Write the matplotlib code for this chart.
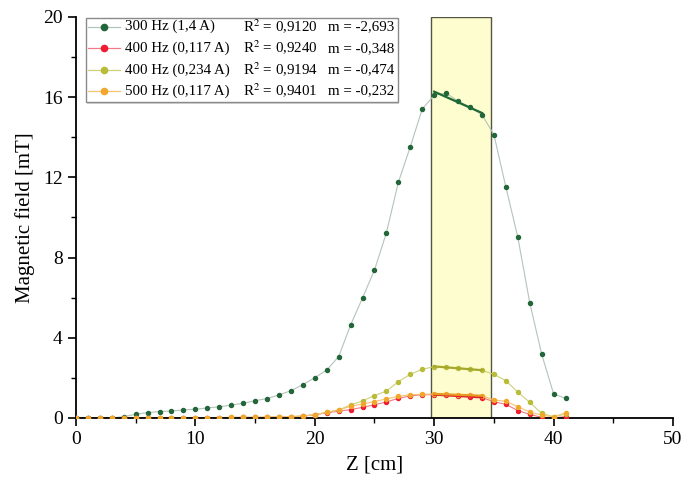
import numpy as np
import matplotlib
matplotlib.use("Agg")
import matplotlib.pyplot as plt
from matplotlib.patches import Rectangle
from matplotlib.lines import Line2D

plt.rcParams['font.family'] = ['Liberation Serif', 'DejaVu Serif']
plt.rcParams['mathtext.fontset'] = 'stix'

z = np.arange(0, 42)

b_300 = [0, 0, 0, 0, 0.07, 0.18, 0.27, 0.32, 0.35, 0.40, 0.44, 0.50, 0.56, 0.64,
         0.74, 0.86, 0.97, 1.15, 1.36, 1.66, 2.01, 2.39, 3.06, 4.64, 5.99, 7.38,
         9.24, 11.76, 13.53, 15.41, 16.10, 16.20, 15.80, 15.50, 15.12, 14.13,
         11.52, 9.02, 5.75, 3.18, 1.20, 0.98]
b_400a = [0, 0, 0, 0, 0, 0, 0, 0, 0.01, 0.01, 0.01, 0.02, 0.02, 0.02, 0.03, 0.03,
          0.03, 0.04, 0.06, 0.09, 0.16, 0.26, 0.34, 0.42, 0.53, 0.66, 0.80, 0.98,
          1.10, 1.16, 1.16, 1.13, 1.10, 1.07, 1.02, 0.81, 0.68, 0.37, 0.18, 0.03,
          0.0, 0.07]
b_400b = [0, 0, 0, 0, 0, 0, 0, 0, 0.01, 0.01, 0.02, 0.02, 0.02, 0.03, 0.03, 0.03,
          0.04, 0.05, 0.07, 0.10, 0.17, 0.28, 0.40, 0.65, 0.85, 1.12, 1.34, 1.81,
          2.18, 2.43, 2.56, 2.53, 2.49, 2.44, 2.37, 2.18, 1.86, 1.29, 0.78, 0.23,
          0.07, 0.18]
b_500 = [0, 0, 0, 0, 0, 0, 0, 0, 0.01, 0.01, 0.02, 0.02, 0.02, 0.03, 0.03, 0.03,
         0.04, 0.05, 0.07, 0.10, 0.17, 0.28, 0.40, 0.58, 0.70, 0.82, 0.95, 1.08,
         1.16, 1.18, 1.20, 1.18, 1.16, 1.13, 1.11, 0.90, 0.83, 0.56, 0.30, 0.14,
         0.06, 0.26]

names = ["300 Hz (1,4 A)", "400 Hz (0,117 A)", "400 Hz (0,234 A)", "500 Hz (0,117 A)"]
r2 = ["0,9120", "0,9240", "0,9194", "0,9401"]
slopes = ["-2,693", "-0,348", "-0,474", "-0,232"]
fit_lo, fit_hi = 30, 34
band = (29.7, 34.75)

series = [b_300, b_400a, b_400b, b_500]
mcol = ["#22663a", "#ee1c32", "#b9bc38", "#f3a62c"]
lcol = ["#b4c4b8", "#f27a86", "#cfd17a", "#f6c374"]
fcol = ["#1f6a34", "#e0202e", "#a5a82a", "#e89a20"]

fig = plt.figure(figsize=(6.84, 4.82), dpi=100)
ax = fig.add_axes([0.111, 0.1328, 0.873, 0.832])

ax.axvspan(band[0], band[1], facecolor="#fdfdd0", edgecolor="#555544", lw=1.0, zorder=0)

for b, mc, lc, fc in zip(series, mcol, lcol, fcol):
    b = np.asarray(b)
    ax.plot(z, b, '-', color=lc, lw=0.8, zorder=2)
    ax.plot(z, b, 'o', color=mc, ms=2.9, mec=mc, zorder=3)
    sel = (z >= fit_lo) & (z <= fit_hi)
    p = np.polyfit(z[sel], b[sel], 1)
    xf = np.array([fit_lo, fit_hi])
    ax.plot(xf, np.polyval(p, xf), '-', color=fc, lw=1.6, zorder=4)

ax.set_xlim(0, 50)
ax.set_ylim(0, 20)
ax.set_xticks(np.arange(0, 51, 10))
ax.set_xticks(np.arange(0, 51, 5), minor=True)
ax.set_yticks(np.arange(0, 21, 4))
ax.set_yticks(np.arange(0, 21, 2), minor=True)
ax.tick_params(which='major', direction='out', length=6, width=1.2, labelsize=14, colors='black')
ax.tick_params(which='minor', direction='out', length=3.5, width=1.0)
for s in ['top', 'right']:
    ax.spines[s].set_visible(False)
for s in ['left', 'bottom']:
    ax.spines[s].set_linewidth(1.3)
ax.set_xlabel("Z [cm]", fontsize=15, labelpad=5)
ax.set_ylabel("Magnetic field [mT]", fontsize=15, labelpad=6)

# legend box (manual, to align the columns)
tr = ax.transAxes
lx0, lx1 = 0.0168, 0.539
ly0, ly1 = 0.788, 0.9975
ax.add_patch(Rectangle((lx0 + 0.002, ly0 - 0.004), lx1 - lx0, ly1 - ly0, transform=tr,
                       facecolor="#d8d8d8", edgecolor="none", zorder=5, clip_on=False))
ax.add_patch(Rectangle((lx0, ly0), lx1 - lx0, ly1 - ly0, transform=tr,
                       facecolor="white", edgecolor="#8a8a8a", lw=1.0, zorder=6, clip_on=False))
rows = [0.9758, 0.9219, 0.8678, 0.8155]
for i, y in enumerate(rows):
    ax.add_line(Line2D([0.020, 0.0745], [y, y], transform=tr, color=lcol[i], lw=0.9,
                       zorder=7, clip_on=False))
    ax.add_line(Line2D([0.047], [y], transform=tr, marker='o', ms=4.5, color=mcol[i],
                       zorder=8, clip_on=False))
    ax.text(0.0820, y, names[i], transform=tr, fontsize=10.8, va='center', ha='left', zorder=8)
    ax.text(0.2800, y, "R$^2$ = " + r2[i], transform=tr, fontsize=10.8, va='center', ha='left', zorder=8)
    ax.text(0.4220, y, "m = " + slopes[i], transform=tr, fontsize=10.8, va='center', ha='left', zorder=8)

fig.savefig("out.png", dpi=100)
